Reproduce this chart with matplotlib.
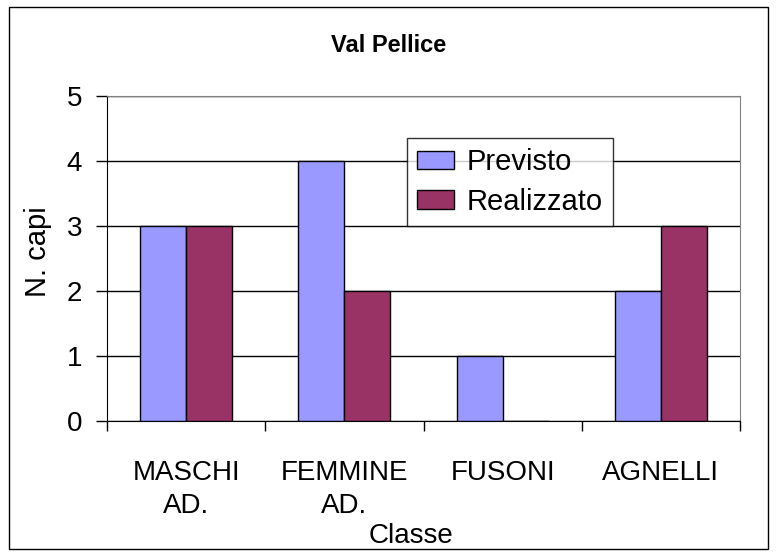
import numpy as np
import matplotlib.pyplot as plt
from matplotlib.patches import Rectangle
from matplotlib.legend_handler import HandlerPatch

categories = ['MASCHI\nAD.', 'FEMMINE\nAD.', 'FUSONI', 'AGNELLI']
previsto = [3, 4, 1, 2]
realizzato = [3, 2, 0, 3]

plt.rcParams['font.family'] = ['Liberation Sans', 'DejaVu Sans']

fig = plt.figure(figsize=(7.77, 5.55), dpi=100)
ax = fig.add_axes([107 / 777, 1 - 421 / 555, 633 / 777, 325 / 555])

# outer chart border
fig.patches.append(Rectangle((9 / 777, 6 / 555), 759 / 777, 542 / 555,
                             transform=fig.transFigure, fill=False,
                             edgecolor='black', linewidth=1))

x = np.arange(len(categories))
w = 0.29
ax.bar(x - w / 2, previsto, w, color='#9999FF', edgecolor='black', linewidth=1,
       label='Previsto', zorder=3)
ax.bar(x + w / 2, realizzato, w, color='#993366', edgecolor='black', linewidth=1,
       label='Realizzato', zorder=3)

ax.set_xlim(-0.5, 3.5)
ax.set_ylim(0, 5)
ax.set_yticks(range(6))
ax.yaxis.grid(True, color='black', linewidth=1, zorder=0)
ax.tick_params(axis='y', labelsize=20, length=8, width=1, direction='out', pad=10)

ax.set_xticks(np.arange(-0.5, 4, 1))
ax.set_xticklabels([])
ax.set_xticks(x, minor=True)
ax.set_xticklabels(categories, minor=True, fontsize=20, linespacing=1.35)
ax.tick_params(axis='x', which='major', length=7, width=1, direction='out')
ax.tick_params(axis='x', which='minor', length=0, pad=28)

for side in ['top', 'right']:
    ax.spines[side].set_color('#808080')
for side in ['left', 'bottom']:
    ax.spines[side].set_color('black')

ax.set_ylabel('N. capi', fontsize=21)
ax.yaxis.set_label_coords((52 - 107) / 633, 0.52)
ax.set_xlabel('Classe', fontsize=20)
ax.xaxis.set_label_coords((411 - 107) / 633, (421 - 523) / 325)
fig.text(0.5, 1 - 45 / 555, 'Val Pellice', ha='center', va='center',
         fontsize=17, fontweight='bold')


def square(legend, orig_handle, xdescent, ydescent, width, height, fontsize):
    s = 0.6 * fontsize
    return Rectangle((-xdescent + width - s, -ydescent + (height - s) / 2), s, s)


leg = ax.legend(loc='upper left', bbox_to_anchor=((407 - 107) / 633, (421 - 138) / 325),
                fontsize=21, frameon=True, fancybox=False, edgecolor='black',
                handlelength=1.25, handleheight=0.6, handletextpad=0.45,
                borderpad=0.35, labelspacing=0.4, borderaxespad=0,
                handler_map={Rectangle: HandlerPatch(patch_func=square)})
leg.get_frame().set_linewidth(1)
leg.set_zorder(5)

fig.savefig('out.png', dpi=100)
